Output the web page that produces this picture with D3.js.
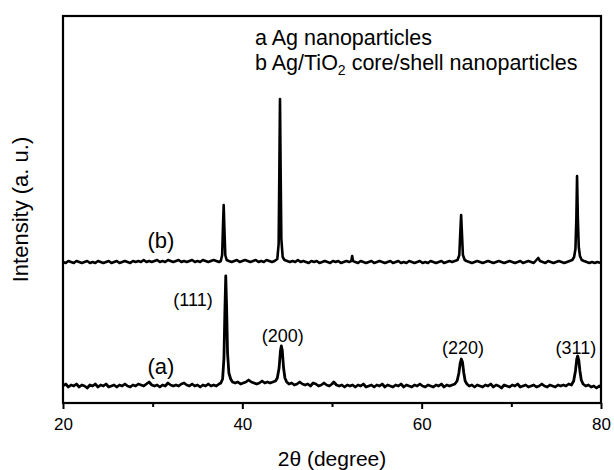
<!DOCTYPE html>
<html>
<head>
<meta charset="utf-8">
<script src="https://cdn.jsdelivr.net/npm/d3@7/dist/d3.min.js"></script>
<style>
  body { margin: 0; background: #fff; }
  text { font-family: "Liberation Sans", Arial, sans-serif; fill: #000; }
</style>
</head>
<body>
<svg id="chart" width="614" height="470"></svg>
<script>
// XRD patterns: [2theta, intensity (a.u.)]
let agPattern = [
  [20.0, 17], [20.3, 19], [20.6, 16], [20.9, 18], [21.2, 17], [21.5, 19], [21.8, 16], [22.1, 18],
  [22.4, 17], [22.7, 15], [23.0, 18], [23.3, 17], [23.6, 19], [23.9, 16], [24.2, 18], [24.5, 17],
  [24.8, 19], [25.1, 16], [25.4, 17], [25.7, 18], [26.0, 16], [26.3, 18], [26.6, 17], [26.9, 19],
  [27.2, 17], [27.5, 16], [27.8, 18], [28.1, 17], [28.4, 19], [28.7, 18], [29.0, 17], [29.3, 19],
  [29.6, 21], [29.9, 18], [30.2, 17], [30.5, 18], [30.8, 16], [31.1, 18], [31.4, 17], [31.7, 20],
  [32.0, 18], [32.3, 17], [32.6, 18], [32.9, 17], [33.2, 19], [33.5, 20], [33.8, 18], [34.1, 17],
  [34.4, 19], [34.7, 17], [35.0, 18], [35.3, 16], [35.6, 18], [35.9, 17], [36.2, 19], [36.5, 17],
  [36.8, 18], [37.1, 17], [37.4, 19], [37.6, 20], [37.8, 24], [37.95, 45], [38.05, 90], [38.15, 127],
  [38.25, 95], [38.35, 50], [38.5, 30], [38.7, 24], [38.9, 21], [39.2, 20], [39.5, 21], [39.8, 19],
  [40.1, 20], [40.4, 21], [40.7, 23], [41.0, 21], [41.3, 20], [41.6, 19], [41.9, 20], [42.2, 22],
  [42.5, 20], [42.8, 21], [43.1, 20], [43.4, 21], [43.7, 22], [43.9, 25], [44.1, 35], [44.25, 52],
  [44.35, 57], [44.45, 53], [44.6, 35], [44.75, 25], [44.95, 21], [45.2, 19], [45.5, 20], [45.8, 18],
  [46.1, 19], [46.4, 21], [46.7, 19], [47.0, 18], [47.3, 19], [47.6, 17], [47.9, 20], [48.2, 19],
  [48.5, 17], [48.8, 18], [49.1, 20], [49.4, 18], [49.7, 17], [50.0, 19], [50.2, 21], [50.5, 18],
  [50.8, 17], [51.1, 18], [51.4, 16], [51.7, 18], [52.0, 17], [52.3, 18], [52.6, 16], [52.9, 18],
  [53.2, 17], [53.5, 19], [53.8, 16], [54.1, 17], [54.4, 18], [54.7, 16], [55.0, 18], [55.3, 17],
  [55.6, 19], [55.9, 16], [56.2, 18], [56.5, 17], [56.8, 16], [57.1, 18], [57.4, 17], [57.7, 19],
  [58.0, 16], [58.3, 18], [58.6, 17], [58.9, 16], [59.2, 18], [59.5, 17], [59.8, 19], [60.1, 17],
  [60.4, 16], [60.7, 18], [61.0, 17], [61.3, 16], [61.6, 18], [61.9, 17], [62.2, 19], [62.5, 16],
  [62.8, 18], [63.1, 17], [63.4, 18], [63.7, 19], [63.95, 22], [64.15, 30], [64.3, 40], [64.42, 44],
  [64.55, 41], [64.7, 30], [64.85, 22], [65.05, 19], [65.3, 17], [65.6, 18], [65.9, 16], [66.2, 18],
  [66.5, 17], [66.8, 16], [67.1, 18], [67.4, 17], [67.7, 19], [68.0, 16], [68.3, 18], [68.6, 17],
  [68.9, 15], [69.2, 18], [69.5, 17], [69.8, 16], [70.1, 18], [70.4, 17], [70.7, 19], [71.0, 16],
  [71.3, 17], [71.6, 18], [71.9, 16], [72.2, 17], [72.5, 18], [72.8, 16], [73.1, 17], [73.4, 19],
  [73.7, 17], [74.0, 16], [74.3, 18], [74.6, 17], [74.9, 16], [75.2, 18], [75.5, 17], [75.8, 18],
  [76.1, 17], [76.4, 19], [76.7, 18], [76.95, 22], [77.15, 32], [77.3, 44], [77.4, 47], [77.52, 43],
  [77.65, 32], [77.8, 23], [78.0, 19], [78.3, 17], [78.6, 18], [78.9, 16], [79.2, 17], [79.5, 15],
  [79.8, 17], [80.0, 16]
];

let agTiO2Pattern = [
  [20.0, 17], [20.3, 16], [20.6, 18], [20.9, 17], [21.2, 16], [21.5, 18], [21.8, 17], [22.1, 16],
  [22.4, 17], [22.7, 18], [23.0, 16], [23.3, 17], [23.6, 16], [23.9, 18], [24.2, 17], [24.5, 16],
  [24.8, 17], [25.1, 18], [25.4, 16], [25.7, 17], [26.0, 18], [26.3, 16], [26.6, 17], [26.9, 18],
  [27.2, 17], [27.5, 16], [27.8, 18], [28.1, 17], [28.4, 18], [28.7, 17], [29.0, 19], [29.3, 17],
  [29.6, 18], [29.9, 17], [30.2, 18], [30.5, 19], [30.8, 17], [31.1, 18], [31.4, 17], [31.7, 19],
  [32.0, 18], [32.3, 17], [32.6, 18], [32.9, 19], [33.2, 17], [33.5, 18], [33.8, 17], [34.1, 18],
  [34.4, 19], [34.7, 17], [35.0, 18], [35.3, 17], [35.6, 19], [35.9, 18], [36.2, 17], [36.5, 18],
  [36.8, 19], [37.1, 18], [37.4, 17], [37.6, 18], [37.75, 24], [37.85, 55], [37.92, 74], [38.0, 50],
  [38.1, 24], [38.25, 19], [38.5, 18], [38.8, 17], [39.1, 18], [39.4, 19], [39.7, 17], [40.0, 18],
  [40.3, 19], [40.6, 18], [40.9, 17], [41.2, 18], [41.5, 19], [41.8, 17], [42.1, 18], [42.4, 17],
  [42.7, 19], [43.0, 18], [43.3, 17], [43.6, 18], [43.9, 20], [44.05, 35], [44.13, 110], [44.2, 180],
  [44.27, 110], [44.35, 40], [44.5, 22], [44.7, 19], [45.0, 18], [45.3, 17], [45.6, 18], [45.9, 17],
  [46.2, 19], [46.5, 17], [46.8, 18], [47.1, 17], [47.4, 16], [47.7, 18], [48.0, 17], [48.3, 18],
  [48.6, 16], [48.9, 17], [49.2, 18], [49.5, 17], [49.8, 16], [50.1, 18], [50.4, 17], [50.7, 18],
  [51.0, 16], [51.3, 17], [51.6, 18], [51.9, 17], [52.15, 18], [52.25, 23], [52.35, 18], [52.6, 17],
  [52.9, 16], [53.2, 18], [53.5, 17], [53.8, 16], [54.1, 17], [54.4, 18], [54.7, 16], [55.0, 17],
  [55.3, 18], [55.6, 17], [55.9, 16], [56.2, 17], [56.5, 18], [56.8, 16], [57.1, 17], [57.4, 18],
  [57.7, 16], [58.0, 17], [58.3, 16], [58.6, 18], [58.9, 17], [59.2, 16], [59.5, 17], [59.8, 18],
  [60.1, 16], [60.4, 17], [60.7, 16], [61.0, 18], [61.3, 17], [61.6, 16], [61.9, 17], [62.2, 18],
  [62.5, 16], [62.8, 17], [63.1, 18], [63.4, 17], [63.7, 18], [64.0, 19], [64.2, 24], [64.3, 45],
  [64.4, 64], [64.5, 44], [64.6, 24], [64.8, 19], [65.0, 18], [65.3, 17], [65.6, 16], [65.9, 17],
  [66.2, 18], [66.5, 17], [66.8, 16], [67.1, 17], [67.4, 18], [67.7, 17], [68.0, 16], [68.3, 17],
  [68.6, 18], [68.9, 17], [69.2, 16], [69.5, 17], [69.8, 18], [70.1, 17], [70.4, 16], [70.7, 17],
  [71.0, 18], [71.3, 16], [71.6, 17], [71.9, 18], [72.2, 17], [72.5, 16], [72.8, 19], [73.0, 21],
  [73.2, 18], [73.5, 17], [73.8, 16], [74.1, 18], [74.4, 17], [74.7, 16], [75.0, 17], [75.3, 18],
  [75.6, 17], [75.9, 16], [76.2, 17], [76.5, 18], [76.8, 19], [77.0, 22], [77.15, 30], [77.25, 60],
  [77.33, 103], [77.42, 60], [77.52, 32], [77.65, 23], [77.85, 19], [78.1, 18], [78.4, 17], [78.7, 16],
  [79.0, 17], [79.3, 16], [79.6, 17], [80.0, 16]
];

// pattern b is stacked above pattern a
let stackOffset = 124;

let majorTicks = [20, 40, 60, 80];
let minorTicks = [30, 50, 70];

// reflection labels for pattern a: [label, 2theta, label centre height in px]
let reflections = [
  ['(111)', 34.5, 300],
  ['(200)', 44.5, 336],
  ['(220)', 64.6, 348],
  ['(311)', 77.2, 348]
];

let legendLines = ['a Ag nanoparticles', 'b Ag/TiO|2| core/shell nanoparticles'];

let plot = { left: 63, right: 601, top: 16, bottom: 403 };

let svg = d3.select('#chart');

let x = d3.scaleLinear()
  .domain([20, 80])
  .range([plot.left, plot.right]);

let y = d3.scaleLinear()
  .domain([0, 387])
  .range([plot.bottom, plot.top]);

let line = d3.line()
  .x(d => x(d[0]))
  .y(d => y(d[1]));

// Patterns
svg.append('path')
  .datum(agPattern)
  .attr('d', line)
  .attr('fill', 'none')
  .attr('stroke', '#000')
  .attr('stroke-width', 2.8)
  .attr('stroke-linejoin', 'round');

svg.append('path')
  .datum(agTiO2Pattern.map(d => [d[0], d[1] + stackOffset]))
  .attr('d', line)
  .attr('fill', 'none')
  .attr('stroke', '#000')
  .attr('stroke-width', 2.6)
  .attr('stroke-linejoin', 'round');

// Frame
svg.append('rect')
  .attr('x', plot.left)
  .attr('y', plot.top)
  .attr('width', plot.right - plot.left)
  .attr('height', plot.bottom - plot.top)
  .attr('fill', 'none')
  .attr('stroke', '#000')
  .attr('stroke-width', 2.2);

// X axis, major then minor ticks
let xAxis = svg.append('g')
  .attr('transform', 'translate(0,' + plot.bottom + ')')
  .call(d3.axisBottom(x).tickValues(majorTicks).tickSize(6).tickPadding(9)
    .tickFormat(d3.format('d')));
xAxis.select('.domain').remove();
xAxis.selectAll('line').attr('stroke-width', 2);
xAxis.selectAll('text')
  .attr('font-size', 17)
  .attr('font-family', '"Liberation Sans", Arial, sans-serif');

let xMinor = svg.append('g')
  .attr('transform', 'translate(0,' + plot.bottom + ')')
  .call(d3.axisBottom(x).tickValues(minorTicks).tickSize(4).tickFormat(''));
xMinor.select('.domain').remove();
xMinor.selectAll('line').attr('stroke-width', 2);

// Axis titles
svg.append('text')
  .attr('x', (plot.left + plot.right) / 2)
  .attr('y', 466)
  .attr('text-anchor', 'middle')
  .attr('font-size', 21)
  .text('2\u03B8 (degree)');

svg.append('text')
  .attr('transform', 'translate(28,' + (plot.top + plot.bottom) / 2 + ') rotate(-90)')
  .attr('text-anchor', 'middle')
  .attr('font-size', 22)
  .text('Intensity (a. u.)');

// Legend, with '|' marking a subscript
let legend = svg.append('g');
legendLines.forEach((str, i) => {
  let t = legend.append('text')
    .attr('x', 255)
    .attr('y', 45 + i * 25)
    .attr('font-size', 21.5);
  str.split('|').forEach((part, j) => {
    let span = t.append('tspan').text(part);
    if (j % 2 === 1) {
      span.attr('font-size', 14).attr('dy', 5);
    } else if (j > 0) {
      span.attr('dy', -5);
    }
  });
});

// Curve labels
svg.append('text')
  .attr('x', 161).attr('y', 248)
  .attr('text-anchor', 'middle')
  .attr('font-size', 22)
  .text('(b)');
svg.append('text')
  .attr('x', 161).attr('y', 374)
  .attr('text-anchor', 'middle')
  .attr('font-size', 22)
  .text('(a)');

// Reflection labels
svg.selectAll('text.hkl')
  .data(reflections)
  .enter().append('text')
  .attr('class', 'hkl')
  .attr('x', d => x(d[1]))
  .attr('y', d => d[2] + 6)
  .attr('text-anchor', 'middle')
  .attr('font-size', 18)
  .text(d => d[0]);
</script>
</body>
</html>
